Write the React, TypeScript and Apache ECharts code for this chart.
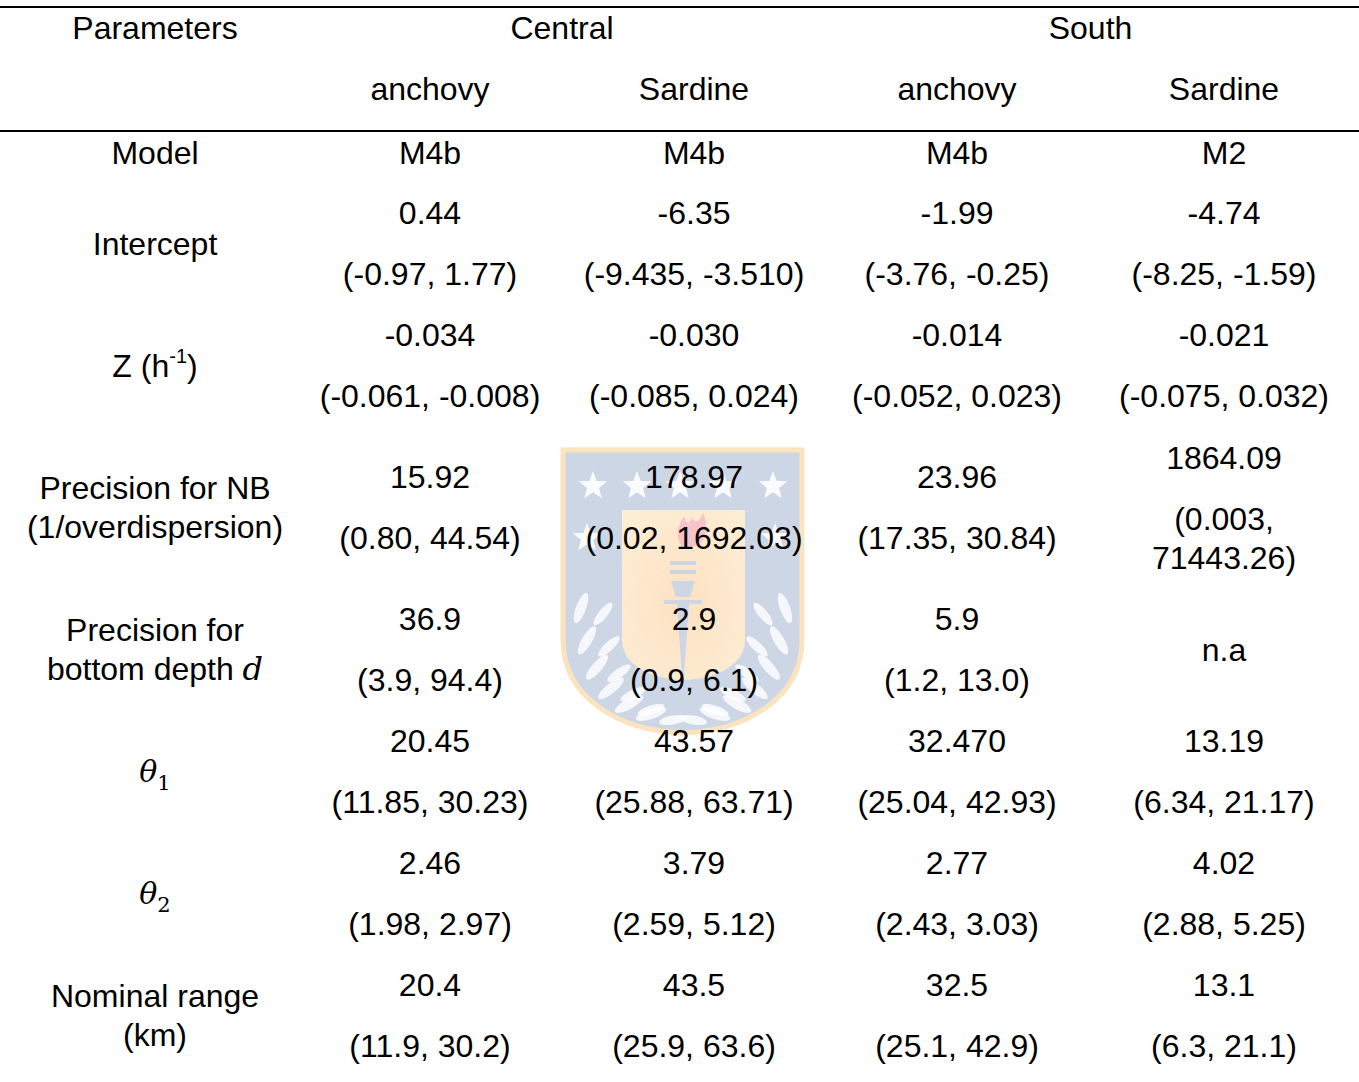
import React, { useEffect, useRef } from "react";
import * as echarts from "echarts";

// ---------- table content ----------
const headerLabel = "Parameters";
const regions = ["Central", "South"];
const species = ["anchovy", "Sardine", "anchovy", "Sardine"];
const modelLabel = "Model";
const modelNames = ["M4b", "M4b", "M4b", "M2"];

const rowLabels = [
  "Intercept",
  "{n|Z (h}{s|-1}{n|)}",
  "Precision for NB\n(1/overdispersion)",
  "Precision for\n{n|bottom depth }{i|d}",
  "{t|θ}{b|1}",
  "{t|θ}{b|2}",
  "Nominal range\n(km)",
];

const interceptEst = ["0.44", "-6.35", "-1.99", "-4.74"];
const interceptCI = ["(-0.97, 1.77)", "(-9.435, -3.510)", "(-3.76, -0.25)", "(-8.25, -1.59)"];
const zEst = ["-0.034", "-0.030", "-0.014", "-0.021"];
const zCI = ["(-0.061, -0.008)", "(-0.085, 0.024)", "(-0.052, 0.023)", "(-0.075, 0.032)"];
const nbEst = ["15.92", "178.97", "23.96", "1864.09"];
const nbCI = ["(0.80, 44.54)", "(0.02, 1692.03)", "(17.35, 30.84)", "(0.003,\n71443.26)"];
const depthEst = ["36.9", "2.9", "5.9", "n.a"];
const depthCI = ["(3.9, 94.4)", "(0.9, 6.1)", "(1.2, 13.0)", ""];
const theta1Est = ["20.45", "43.57", "32.470", "13.19"];
const theta1CI = ["(11.85, 30.23)", "(25.88, 63.71)", "(25.04, 42.93)", "(6.34, 21.17)"];
const theta2Est = ["2.46", "3.79", "2.77", "4.02"];
const theta2CI = ["(1.98, 2.97)", "(2.59, 5.12)", "(2.43, 3.03)", "(2.88, 5.25)"];
const rangeEst = ["20.4", "43.5", "32.5", "13.1"];
const rangeCI = ["(11.9, 30.2)", "(25.9, 63.6)", "(25.1, 42.9)", "(6.3, 21.1)"];

const estimates = [interceptEst, zEst, nbEst, depthEst, theta1Est, theta2Est, rangeEst];
const intervals = [interceptCI, zCI, nbCI, depthCI, theta1CI, theta2CI, rangeCI];

// ---------- layout ----------
const W = 1359;
const H = 1082;
const FONT = 32;
const LH = 39;
const FAMILY = "'Liberation Sans', Arial, sans-serif";
const SERIF = "'DejaVu Serif', 'Liberation Serif', serif";
const labelX = 155;
const colX = [430, 694, 957, 1224];
const estY = [213, 335, 477, 619, 741, 863, 985];
const CI_GAP = 61;

// ---------- watermark shapes ----------
echarts.graphic.registerShape(
  "udecShield",
  echarts.graphic.extendPath(
    "M563,450 L802,450 L802,640 C802,698 746,731 683,733 C620,731 563,698 563,640 Z",
    {}
  )
);
echarts.graphic.registerShape(
  "udecPanel",
  echarts.graphic.extendPath(
    "M622,510 L745,510 L745,640 C745,665 716,679 684,680 C651,679 622,665 622,640 Z",
    {}
  )
);
echarts.graphic.registerShape(
  "udecFlame",
  echarts.graphic.extendPath(
    "M682,546 C674,536 678,526 684,516 C686,526 690,524 692,517 C696,526 700,520 703,513 C709,526 706,540 697,546 Z",
    {}
  )
);

function starPoints(cx: number, cy: number, r: number) {
  const pts: number[][] = [];
  for (let i = 0; i < 10; i++) {
    const a = -Math.PI / 2 + (i * Math.PI) / 5;
    const rr = i % 2 ? r * 0.42 : r;
    pts.push([cx + rr * Math.cos(a), cy + rr * Math.sin(a)]);
  }
  return pts;
}

function buildWatermark(): any[] {
  const els: any[] = [];
  const blue = "#cdd6e5";
  els.push({
    type: "udecShield",
    z: 1,
    style: { fill: blue, stroke: "#fbe4bd", lineWidth: 5 },
  });
  els.push({
    type: "udecPanel",
    z: 2,
    style: {
      fill: new echarts.graphic.RadialGradient(0.5, 0.55, 0.75, [
        { offset: 0, color: "#fde1c2" },
        { offset: 1, color: "#fdefd6" },
      ]),
    },
  });
  const stars = [
    [593, 486],
    [637, 486],
    [680, 486],
    [723, 486],
    [773, 486],
    [587, 538],
    [775, 538],
  ];
  stars.forEach(([cx, cy]) =>
    els.push({
      type: "polygon",
      z: 3,
      shape: { points: starPoints(cx, cy, 15) },
      style: { fill: "#ffffff", opacity: 0.9 },
    })
  );
  // torch
  els.push({ type: "udecFlame", z: 3, style: { fill: "#f6c3cb" } });
  els.push({ type: "rect", z: 3, shape: { x: 670, y: 561, width: 26, height: 4 }, style: { fill: blue } });
  els.push({ type: "rect", z: 3, shape: { x: 670, y: 570, width: 26, height: 4 }, style: { fill: blue } });
  els.push({
    type: "polygon",
    z: 3,
    shape: { points: [[671, 581], [695, 581], [690, 597], [676, 597]] },
    style: { fill: blue },
  });
  els.push({ type: "rect", z: 3, shape: { x: 664, y: 600, width: 38, height: 4 }, style: { fill: blue } });
  els.push({
    type: "polygon",
    z: 3,
    shape: { points: [[677, 604], [689, 604], [683, 690]] },
    style: { fill: blue },
  });
  // laurel branches
  const leaf = (x: number, y: number, rot: number, rx: number, ry: number) =>
    els.push({
      type: "ellipse",
      z: 3,
      x,
      y,
      rotation: rot,
      shape: { cx: 0, cy: 0, rx, ry },
      style: { fill: "#ffffff", opacity: 0.8 },
    });
  for (let side = -1; side <= 1; side += 2) {
    for (let k = 0; k < 6; k++) {
      const t = k / 5;
      const x0 = 683 + side * 92, y0 = 612;
      const xc = 683 + side * 82, yc = 700;
      const x1 = 683 + side * 22, y1 = 718;
      const x = (1 - t) * (1 - t) * x0 + 2 * (1 - t) * t * xc + t * t * x1;
      const y = (1 - t) * (1 - t) * y0 + 2 * (1 - t) * t * yc + t * t * y1;
      const rot = side * (0.35 + t * 0.9);
      leaf(x + side * 10, y - 4, rot, 5, 16);
      leaf(x - side * 12, y + 2, rot * 0.8 + side * 0.4, 4.5, 14);
    }
  }
  return els;
}

function txt(text: string, x: number, y: number, extra: any = {}) {
  return {
    type: "text",
    z: 10,
    x,
    y,
    style: {
      text,
      fill: "#000000",
      fontSize: FONT,
      fontFamily: FAMILY,
      align: "center",
      verticalAlign: "middle",
      lineHeight: LH,
      ...extra,
    },
  };
}

const labelRich = {
  n: { fontSize: FONT, fontFamily: FAMILY, fill: "#000", lineHeight: LH, verticalAlign: "middle" },
  s: { fontSize: 20, fontFamily: FAMILY, fill: "#000", verticalAlign: "top", lineHeight: 20 },
  i: { fontSize: FONT, fontFamily: SERIF, fontStyle: "italic", fill: "#000", lineHeight: LH },
  t: { fontSize: 30, fontFamily: SERIF, fontStyle: "italic", fill: "#000", lineHeight: 44, verticalAlign: "middle" },
  b: { fontSize: 21, fontFamily: SERIF, fill: "#000", verticalAlign: "bottom", lineHeight: 21 },
};

function buildTable(): any[] {
  const els: any[] = [];
  // rules
  els.push({ type: "line", z: 10, shape: { x1: 0, y1: 7, x2: W, y2: 7 }, style: { stroke: "#000", lineWidth: 2 } });
  els.push({ type: "line", z: 10, shape: { x1: 0, y1: 131, x2: W, y2: 131 }, style: { stroke: "#000", lineWidth: 2 } });
  // headers
  els.push(txt(headerLabel, labelX, 28));
  regions.forEach((r, i) => els.push(txt(r, (colX[i * 2] + colX[i * 2 + 1]) / 2, 28)));
  species.forEach((s, i) => els.push(txt(s, colX[i], 89)));
  // model row
  els.push(txt(modelLabel, labelX, 153));
  modelNames.forEach((m, i) => els.push(txt(m, colX[i], 153)));
  // parameter rows
  rowLabels.forEach((lab, r) => {
    const mid = estY[r] + CI_GAP / 2;
    els.push(txt(lab, labelX, mid, { rich: labelRich }));
    estimates[r].forEach((e, c) => {
      const ci = intervals[r][c];
      if (!ci) {
        els.push(txt(e, colX[c], mid));
      } else if (ci.indexOf("\n") >= 0) {
        els.push(txt(e, colX[c], estY[r] - 19));
        els.push(txt(ci, colX[c], estY[r] + CI_GAP));
      } else {
        els.push(txt(e, colX[c], estY[r]));
        els.push(txt(ci, colX[c], estY[r] + CI_GAP));
      }
    });
  });
  return els;
}

export default function App() {
  const ref = useRef<HTMLDivElement>(null);
  useEffect(() => {
    document.body.style.margin = "0";
    const chart = echarts.init(ref.current!, null, { renderer: "svg" });
    chart.setOption({
      animation: false,
      backgroundColor: "#ffffff",
      graphic: { elements: [...buildWatermark(), ...buildTable()] },
    });
    return () => chart.dispose();
  }, []);
  return <div ref={ref} style={{ width: W, height: H }} />;
}
